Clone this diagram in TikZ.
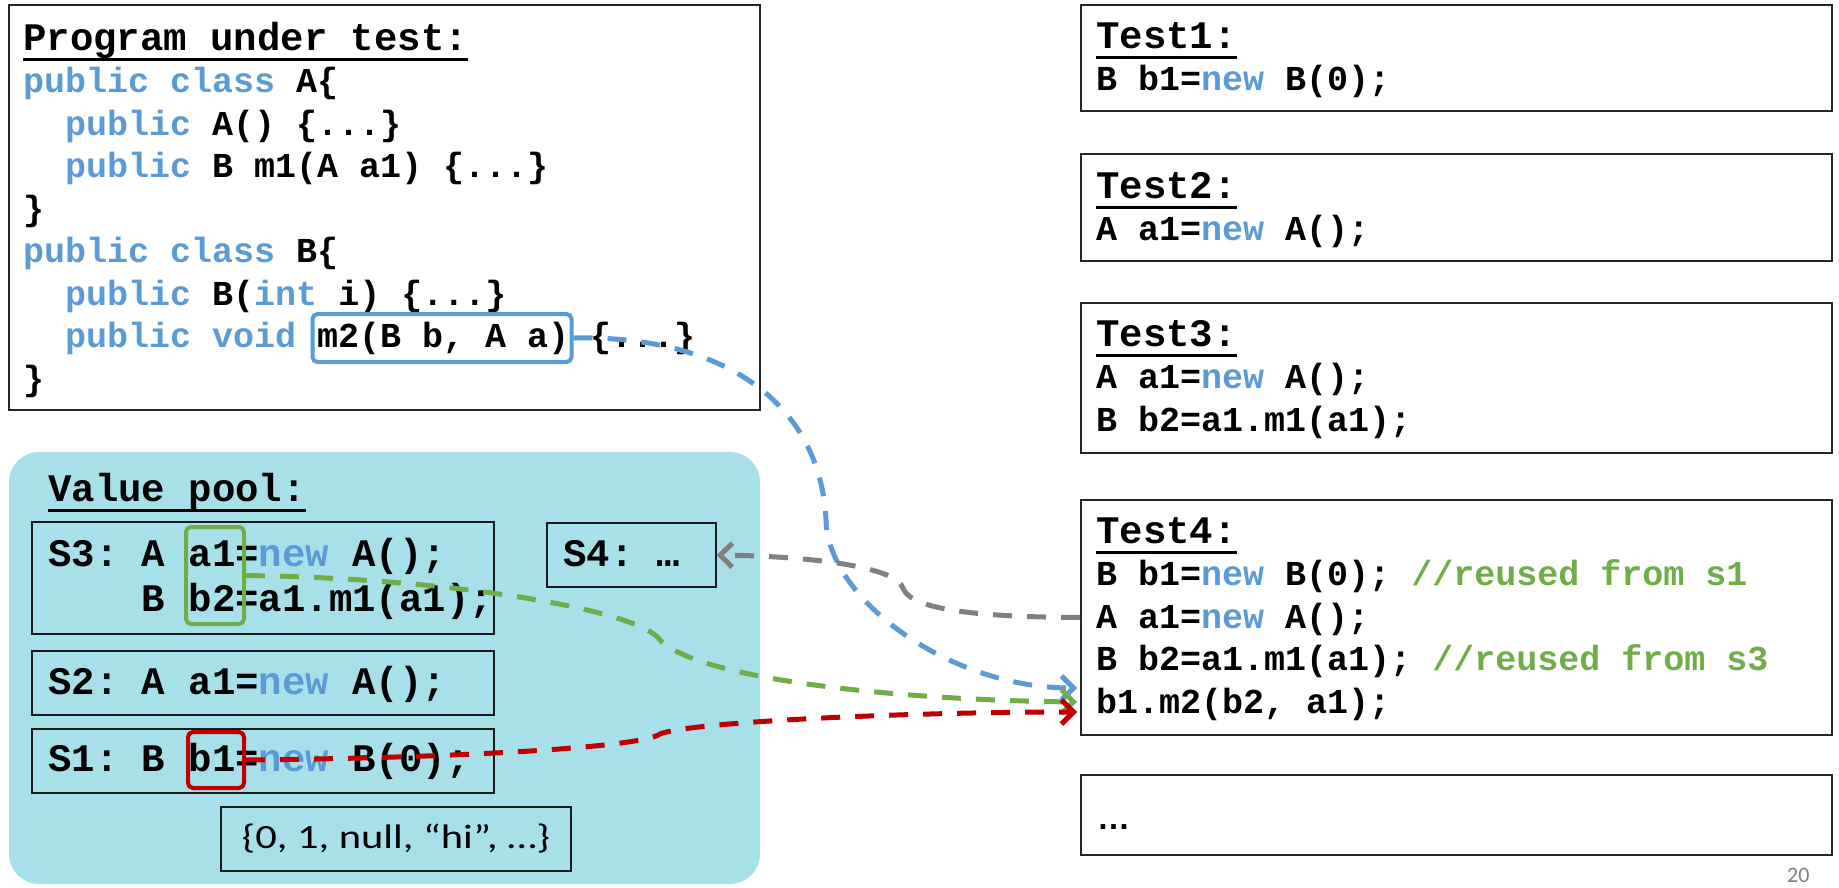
\documentclass[tikz,border=0pt]{standalone}
\usepackage{fontspec}
\usepackage{graphicx}
\setmonofont{Liberation Mono}
\newfontfamily\calfont{Carlito}
\newfontfamily\arialfont{Liberation Sans}
\usetikzlibrary{arrows.meta}
\definecolor{kwblue}{RGB}{91,155,213}
\definecolor{cmgreen}{RGB}{112,173,71}
\definecolor{hlred}{RGB}{192,0,0}
\definecolor{argray}{RGB}{128,128,128}
\definecolor{poolcyan}{RGB}{168,224,234}
\newcommand\kw[1]{\textcolor{kwblue}{#1}}
\newcommand\cm[1]{\textcolor{cmgreen}{#1}}
\newcommand\hd[1]{\setbox0\hbox{#1}\rlap{\rule[-11pt]{\wd0}{3pt}}\box0}
\newcommand\codefont{\ttfamily\bfseries\fontsize{35}{42.5}\selectfont}
\newcommand\headfont{\ttfamily\bfseries\fontsize{39}{45}\selectfont}

\begin{document}
\begin{tikzpicture}[x=1pt, y=-1pt, >={Straight Barb[length=12pt,width=24pt]},
  box/.style={draw=black!85, line width=2pt, inner sep=0pt},
  stmt/.style={draw=black!90, line width=1.5pt, inner sep=0pt, minimum height=64pt},
  hl/.style={draw=#1, line width=4pt, rounded corners=5pt, inner sep=0pt},
  code/.style={anchor=base west, inner sep=0pt, font=\codefont},
  pool/.style={anchor=base west, inner sep=0pt, font=\headfont},
  conn/.style={->, line width=5pt, dash pattern=on 19pt off 15pt, #1}]
\useasboundingbox (0,0) rectangle (1839,887);
\fill[poolcyan, rounded corners=30pt] (9,452) rectangle (760,884);

\node[box, minimum width=751pt, minimum height=405pt] (prog) at (384.5,207.5) {};
\node[code] (progcode) at (23,50) {\begin{tabular}[t]{@{}l@{}}
{\headfont\hd{Program under test:}}\\
\kw{public class} A\{\\
\phantom{xx}\kw{public} A() \{...\}\\
\phantom{xx}\kw{public} B m1(A a1) \{...\}\\
\}\\
\kw{public class} B\{\\
\phantom{xx}\kw{public} B(\kw{int} i) \{...\}\\
\phantom{xx}\kw{public void} m2(B b, A a) \{...\}\\
\}
\end{tabular}};

\node[box, minimum width=751pt, minimum height=106pt] (test1) at (1456.5,58) {};
\node[box, minimum width=751pt, minimum height=107pt] (test2) at (1456.5,207.5) {};
\node[box, minimum width=751pt, minimum height=150pt] (test3) at (1456.5,378) {};
\node[box, minimum width=751pt, minimum height=235pt] (test4) at (1456.5,617.5) {};
\node[box, minimum width=751pt, minimum height=80pt] (test5) at (1456.5,815) {};
\node[code] (t1code) at (1096,48) {\begin{tabular}[t]{@{}l@{}}
{\headfont\hd{Test1:}}\\
B b1=\kw{new} B(0);
\end{tabular}};
\node[code] (t2code) at (1096,198) {\begin{tabular}[t]{@{}l@{}}
{\headfont\hd{Test2:}}\\
A a1=\kw{new} A();
\end{tabular}};
\node[code] (t3code) at (1096,346) {\begin{tabular}[t]{@{}l@{}}
{\headfont\hd{Test3:}}\\
A a1=\kw{new} A();\\
B b2=a1.m1(a1);
\end{tabular}};
\node[code] (t4code) at (1096,543) {\begin{tabular}[t]{@{}l@{}}
{\headfont\hd{Test4:}}\\
B b1=\kw{new} B(0); \cm{//reused from s1}\\
A a1=\kw{new} A();\\
B b2=a1.m1(a1); \cm{//reused from s3}\\
b1.m2(b2, a1);
\end{tabular}};
\node[anchor=base west, inner sep=0pt, font=\arialfont\bfseries\fontsize{33}{40}\selectfont] (t5code) at (1097,829) {…};

\node[pool] (pooltitle) at (48,501) {\hd{Value pool:}};
\node[stmt, minimum width=462pt, minimum height=112pt] (s3) at (263,578) {};
\node[stmt, minimum width=169pt] (s4) at (631.5,555) {};
\node[stmt, minimum width=462pt] (s2) at (263,683) {};
\node[stmt, minimum width=462pt] (s1) at (263,761) {};
\node[stmt, minimum width=350pt] (consts) at (396,839) {\calfont\fontsize{34}{40}\selectfont\scalebox{1.25}[1]{\{0, 1, null, “hi”, …\}}};
\node[pool] (s3code) at (48,566) {\begin{tabular}[t]{@{}l@{}}
S3: A a1=\kw{new} A();\\
\phantom{S3: }B b2=a1.m1(a1);
\end{tabular}};
\node[pool] (s4code) at (563,566) {S4: …};
\node[pool] (s2code) at (48,694) {S2: A a1=\kw{new} A();};
\node[pool] (s1code) at (48,771) {S1: B b1=\kw{new} B(0);};

\node[hl=cmgreen, minimum width=58pt, minimum height=97pt] (a1box) at (215,575.5) {};
\node[hl=hlred, minimum width=56pt, minimum height=56pt] (b1box) at (216,760) {};
\node[hl=kwblue, minimum width=259pt, minimum height=48pt] (m2box) at (442,338) {};
\node[anchor=base west, inner sep=0pt, text=black!50, font=\calfont\fontsize{22}{26}\selectfont] (pagenum) at (1787,882) {20};

\coordinate (blueend) at (1077,688);
\coordinate (greenend) at (1077,702);
\coordinate (redend) at (1077,712);
\draw[conn=kwblue] (m2box.east) .. controls (720,335) and (820,400) .. (826,520) .. controls (828,600) and (950,688) .. (blueend);
\draw[conn=cmgreen] (a1box.east) .. controls (450,578) and (640,610) .. (660,640) .. controls (700,680) and (900,700) .. (greenend);
\draw[conn=hlred] (b1box.east) .. controls (450,758) and (640,748) .. (660,734) .. controls (690,722) and (900,712) .. (redend);
\draw[conn=argray] (test4.west) .. controls (980,617) and (910,610) .. (903,588) .. controls (895,565) and (800,556) .. (s4.east);
\end{tikzpicture}
\end{document}
